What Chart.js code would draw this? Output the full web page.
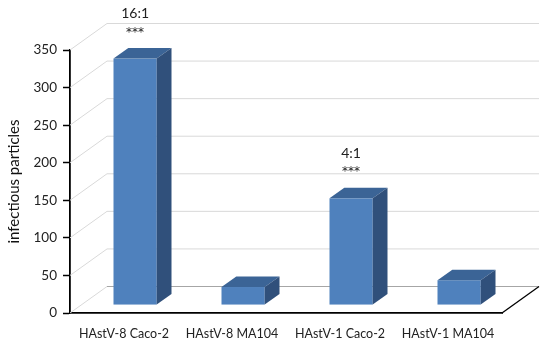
<!DOCTYPE html>
<html>
<head>
<meta charset="utf-8">
<script src="https://cdn.jsdelivr.net/npm/chart.js@4.4.1/dist/chart.umd.min.js"></script>
<style>
html,body{margin:0;padding:0;background:#fff;}
#wrap{width:558px;height:354px;}
</style>
</head>
<body>
<div id="wrap"><canvas id="c" width="558" height="354"></canvas></div>
<script>
const categories = ['HAstV-8 Caco-2', 'HAstV-8 MA104', 'HAstV-1 Caco-2', 'HAstV-1 MA104'];
const values = [328, 24, 142, 33];
const ratioLabels = ['16:1', '', '4:1', ''];
const starLabels = ['***', '', '***', ''];
const yTicks = [0, 50, 100, 150, 200, 250, 300, 350];
const yTitle = 'infectious particles';

const FONT = 'Lato, "Open Sans", sans-serif';
const DEPTH_X = 37, DEPTH_Y = -26.5;   // back wall offset
const BAR_F = 0.3, BAR_B = 0.7;         // bar depth span

const threeD = {
  id: 'threeD',
  beforeDatasetsDraw(chart) {
    const ctx = chart.ctx, ca = chart.chartArea;
    const y = chart.scales.y;
    ctx.save();
    yTicks.forEach(v => {
      const py = y.getPixelForValue(v);
      ctx.lineWidth = 1;
      ctx.strokeStyle = v === 0 ? '#a6a6a6' : '#d9d9d9';
      ctx.beginPath();
      ctx.moveTo(ca.left + DEPTH_X, py + DEPTH_Y);
      ctx.lineTo(ca.right + DEPTH_X, py + DEPTH_Y);
      ctx.stroke();
      ctx.strokeStyle = '#d9d9d9';
      ctx.beginPath();
      ctx.moveTo(ca.left, py);
      ctx.lineTo(ca.left + DEPTH_X, py + DEPTH_Y);
      ctx.stroke();
    });
    const p0 = y.getPixelForValue(0);
    ctx.strokeStyle = '#000';
    ctx.lineWidth = 1.3;
    ctx.beginPath();
    ctx.moveTo(ca.right, p0);
    ctx.lineTo(ca.right + DEPTH_X, p0 + DEPTH_Y);
    ctx.stroke();
    const meta = chart.getDatasetMeta(0);
    const fx = DEPTH_X * BAR_F, fy = DEPTH_Y * BAR_F;
    const dx = DEPTH_X * (BAR_B - BAR_F), dy = DEPTH_Y * (BAR_B - BAR_F);
    meta.data.forEach(bar => {
      const l = bar.x - bar.width / 2 + fx, r = bar.x + bar.width / 2 + fx;
      const t = bar.y + fy, b = bar.base + fy;
      ctx.fillStyle = '#4f81bd';
      ctx.fillRect(l, t, r - l, b - t);
      ctx.fillStyle = '#3b6496';
      ctx.beginPath();
      ctx.moveTo(l, t); ctx.lineTo(l + dx, t + dy); ctx.lineTo(r + dx, t + dy); ctx.lineTo(r, t);
      ctx.closePath(); ctx.fill();
      ctx.fillStyle = '#30507b';
      ctx.beginPath();
      ctx.moveTo(r, t); ctx.lineTo(r + dx, t + dy); ctx.lineTo(r + dx, b + dy); ctx.lineTo(r, b);
      ctx.closePath(); ctx.fill();
    });
    ctx.restore();
  },
  afterDatasetsDraw(chart) {
    const ctx = chart.ctx;
    const meta = chart.getDatasetMeta(0);
    ctx.save();
    ctx.fillStyle = '#222';
    ctx.textAlign = 'center';
    ctx.textBaseline = 'middle';
    meta.data.forEach((bar, i) => {
      const cx = bar.x + DEPTH_X * BAR_F;
      const top = bar.y + DEPTH_Y * BAR_F;
      if (ratioLabels[i]) {
        ctx.font = '14px ' + FONT;
        ctx.fillText(ratioLabels[i], cx, top - 45);
      }
      if (starLabels[i]) {
        ctx.font = '12px "DejaVu Sans", sans-serif';
        ctx.fillText(starLabels[i], cx, top - 26);
      }
    });
    ctx.restore();
  }
};

new Chart(document.getElementById('c'), {
  type: 'bar',
  data: {
    labels: categories,
    datasets: [{
      data: values,
      backgroundColor: 'rgba(0,0,0,0)',
      borderWidth: 0,
      categoryPercentage: 0.8,
      barPercentage: 0.5
    }]
  },
  options: {
    responsive: false,
    animation: false,
    events: [],
    layout: { padding: { top: 50, right: 56, left: 0, bottom: 0 } },
    plugins: { legend: { display: false }, tooltip: { enabled: false } },
    scales: {
      x: {
        grid: { display: false, drawTicks: false },
        border: { display: true, color: '#000', width: 1.8 },
        ticks: { color: '#222', font: { family: FONT, size: 12.5 }, padding: 13, maxRotation: 0 },
        afterFit(s) { s.height = 41; }
      },
      y: {
        min: 0, max: 350,
        afterBuildTicks(s) { s.ticks = yTicks.map(v => ({ value: v })); },
        grid: { display: true, drawOnChartArea: false, tickColor: '#000', tickLength: 7, tickWidth: 1.5 },
        border: { display: true, color: '#000', width: 1.8 },
        ticks: { color: '#222', font: { family: FONT, size: 13.5 }, padding: 6 },
        title: { display: true, text: yTitle, color: '#111', font: { family: FONT, size: 15 }, padding: { top: 5, bottom: 0 } },
        afterFit(s) { s.width = 70; }
      }
    }
  },
  plugins: [threeD]
});
</script>
</body>
</html>
